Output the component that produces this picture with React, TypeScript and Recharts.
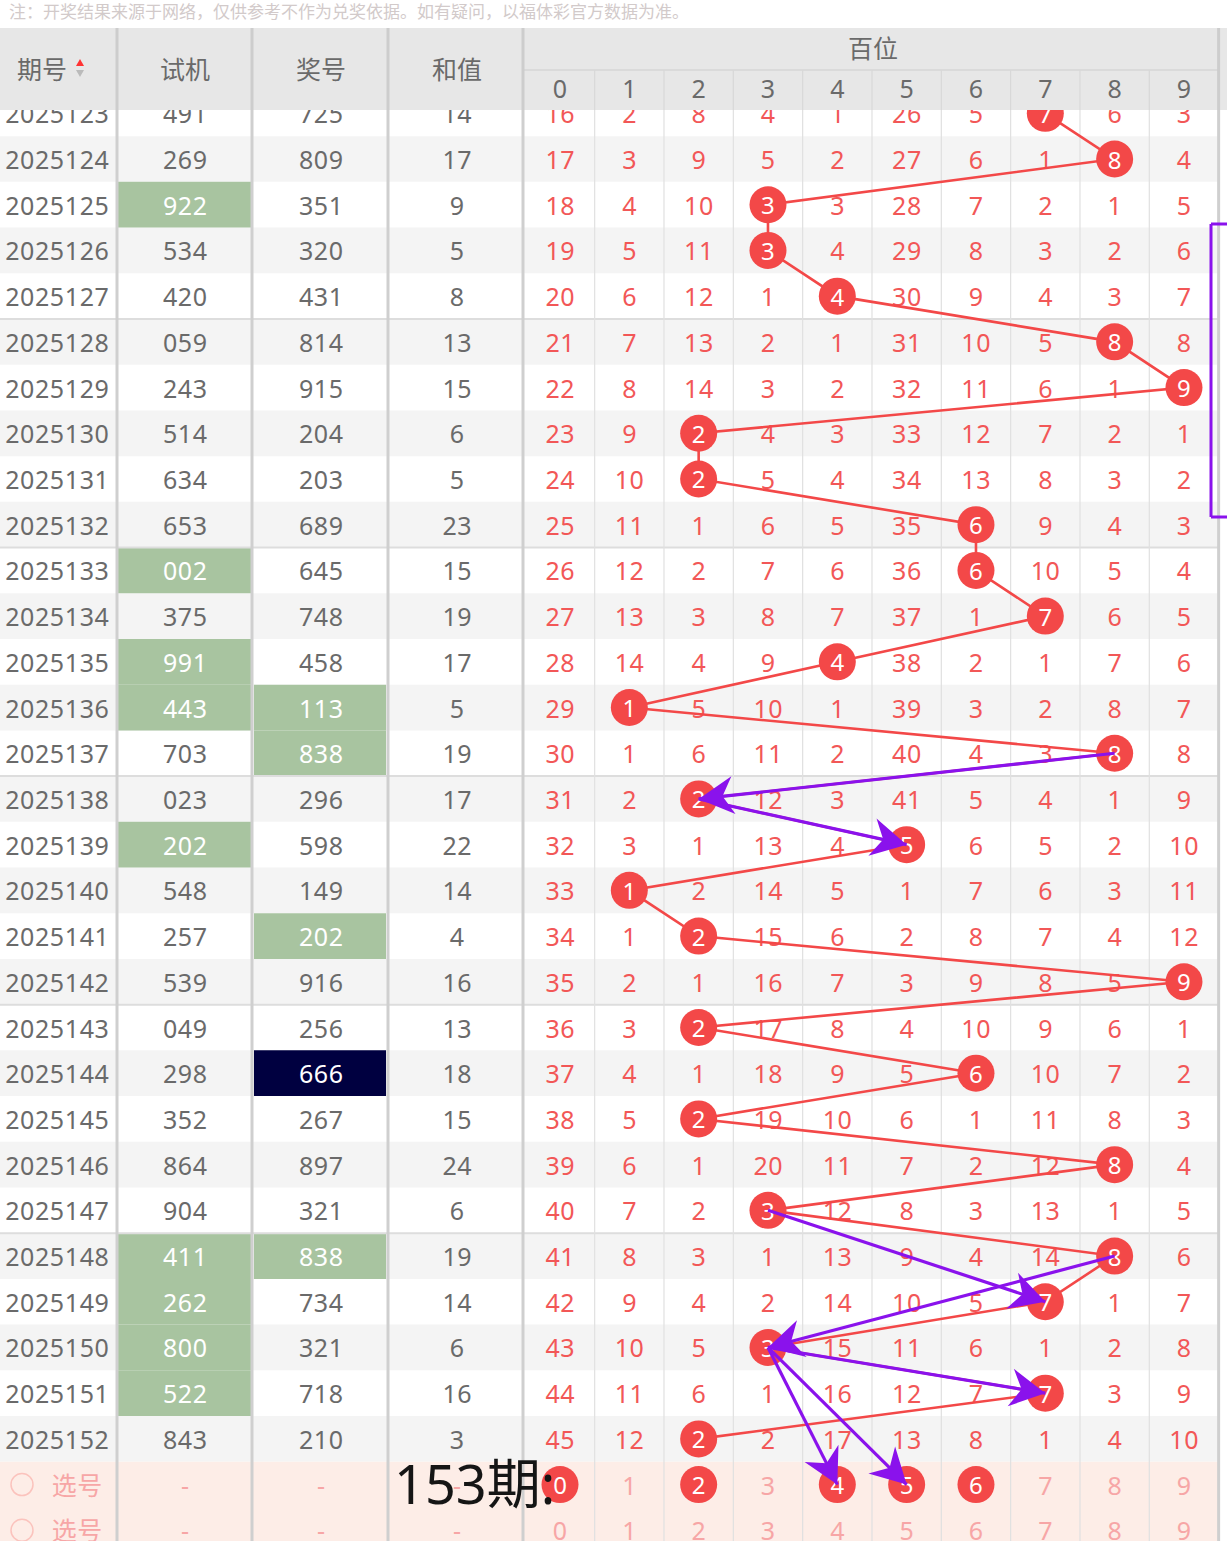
import React from 'react'
import {
  ComposedChart,
  XAxis,
  YAxis,
  Scatter,
  Line,
  ReferenceArea,
  ReferenceLine,
} from 'recharts'

const issues = [
  '2025123', '2025124', '2025125', '2025126', '2025127', '2025128', '2025129', '2025130', '2025131', '2025132',
  '2025133', '2025134', '2025135', '2025136', '2025137', '2025138', '2025139', '2025140', '2025141', '2025142',
  '2025143', '2025144', '2025145', '2025146', '2025147', '2025148', '2025149', '2025150', '2025151', '2025152',
]
const shiji = [
  '491', '269', '922', '534', '420', '059', '243', '514', '634', '653',
  '002', '375', '991', '443', '703', '023', '202', '548', '257', '539',
  '049', '298', '352', '864', '904', '411', '262', '800', '522', '843',
]
const jianghao = [
  '725', '809', '351', '320', '431', '814', '915', '204', '203', '689',
  '645', '748', '458', '113', '838', '296', '598', '149', '202', '916',
  '256', '666', '267', '897', '321', '838', '734', '321', '718', '210',
]
const hezhi = [14, 17, 9, 5, 8, 13, 15, 6, 5, 23, 15, 19, 17, 5, 19, 17, 22, 14, 4, 16, 13, 18, 15, 24, 6, 19, 14, 6, 16, 3]

// 百位 omission values, 0..9 (hit cells hold the digit itself)
const baiwei = [
  [16, 2, 8, 4, 1, 26, 5, 7, 6, 3],
  [17, 3, 9, 5, 2, 27, 6, 1, 8, 4],
  [18, 4, 10, 3, 3, 28, 7, 2, 1, 5],
  [19, 5, 11, 3, 4, 29, 8, 3, 2, 6],
  [20, 6, 12, 1, 4, 30, 9, 4, 3, 7],
  [21, 7, 13, 2, 1, 31, 10, 5, 8, 8],
  [22, 8, 14, 3, 2, 32, 11, 6, 1, 9],
  [23, 9, 2, 4, 3, 33, 12, 7, 2, 1],
  [24, 10, 2, 5, 4, 34, 13, 8, 3, 2],
  [25, 11, 1, 6, 5, 35, 6, 9, 4, 3],
  [26, 12, 2, 7, 6, 36, 6, 10, 5, 4],
  [27, 13, 3, 8, 7, 37, 1, 7, 6, 5],
  [28, 14, 4, 9, 4, 38, 2, 1, 7, 6],
  [29, 1, 5, 10, 1, 39, 3, 2, 8, 7],
  [30, 1, 6, 11, 2, 40, 4, 3, 8, 8],
  [31, 2, 2, 12, 3, 41, 5, 4, 1, 9],
  [32, 3, 1, 13, 4, 5, 6, 5, 2, 10],
  [33, 1, 2, 14, 5, 1, 7, 6, 3, 11],
  [34, 1, 2, 15, 6, 2, 8, 7, 4, 12],
  [35, 2, 1, 16, 7, 3, 9, 8, 5, 9],
  [36, 3, 2, 17, 8, 4, 10, 9, 6, 1],
  [37, 4, 1, 18, 9, 5, 6, 10, 7, 2],
  [38, 5, 2, 19, 10, 6, 1, 11, 8, 3],
  [39, 6, 1, 20, 11, 7, 2, 12, 8, 4],
  [40, 7, 2, 3, 12, 8, 3, 13, 1, 5],
  [41, 8, 3, 1, 13, 9, 4, 14, 8, 6],
  [42, 9, 4, 2, 14, 10, 5, 7, 1, 7],
  [43, 10, 5, 3, 15, 11, 6, 1, 2, 8],
  [44, 11, 6, 1, 16, 12, 7, 7, 3, 9],
  [45, 12, 2, 2, 17, 13, 8, 1, 4, 10],
]
const digits = [0, 1, 2, 3, 4, 5, 6, 7, 8, 9]
const nextPicks = [0, 2, 4, 5, 6] // 153期 choices
// purple arrows: [fromRow, fromDigit, toRow, toDigit]
const arrows = [
  [14, 8, 15, 2],
  [15, 2, 16, 5],
  [24, 3, 26, 7],
  [25, 8, 27, 3],
  [27, 3, 28, 7],
  [27, 3, 30, 4],
  [27, 3, 30, 5],
]
const leftHeaders = ['期号', '试机', '奖号', '和值']
const note = '注：开奖结果来源于网络，仅供参考不作为兑奖依据。如有疑问，以福体彩官方数据为准。'

// ---- layout ----
const W = 1227
const H = 1541
const COL_W = 69.33
const ROW_H = 45.71
const ux = (px: number) => (px - 560) / COL_W
const ry = (py: number) => (py - 113.3) / ROW_H
const X_DOMAIN: [number, number] = [ux(0), ux(W)]
const Y_DOMAIN: [number, number] = [ry(0), ry(H)]
const leftCenters = [57, 185, 321, 457].map(ux)
const thickX = [117, 252, 388, 523].map(ux).concat([9.5])
const PICK_ROW = 30
const FONT = "'Noto Sans', 'Noto Sans CJK SC', sans-serif"
const RED = '#f34848'
const MISS = '#f25757'
const PINK = '#f7a6a6'
const GRAY = '#6a6a6a'
const PURPLE = '#8a12ec'

const hits = jianghao.map(j => Number(j[0]))
const isPair = (s: string) => new Set(s.split('')).size === 2
const isTriple = (s: string) => new Set(s.split('')).size === 1

// text cells
const cells: any[] = []
issues.forEach((iss, i) => {
  cells.push({ x: leftCenters[0], y: i, label: iss, color: GRAY })
  const sj = shiji[i]
  const jh = jianghao[i]
  cells.push({ x: leftCenters[1], y: i, label: sj, color: isPair(sj) || isTriple(sj) ? '#fff' : GRAY })
  cells.push({ x: leftCenters[2], y: i, label: jh, color: isPair(jh) || isTriple(jh) ? '#fff' : GRAY })
  cells.push({ x: leftCenters[3], y: i, label: String(hezhi[i]), color: GRAY })
  digits.forEach(d => {
    if (d !== hits[i]) cells.push({ x: d, y: i, label: String(baiwei[i][d]), color: MISS })
  })
})
;[PICK_ROW, PICK_ROW + 1].forEach(r => {
  cells.push({ x: ux(22), y: r, kind: 'radio' })
  cells.push({ x: ux(77), y: r, label: '选号', color: PINK })
  leftCenters.slice(1).forEach(x => cells.push({ x, y: r, label: '-', color: PINK }))
  digits.forEach(d => {
    if (r === PICK_ROW && nextPicks.includes(d)) return
    cells.push({ x: d, y: r, label: String(d), color: PINK })
  })
})

const balls = hits
  .map((d, i) => ({ x: d, y: i, label: String(d) }))
  .concat(nextPicks.map(d => ({ x: d, y: PICK_ROW, label: String(d) })))
const path = hits.map((d, i) => ({ x: d, y: i }))

const headerCells: any[] = [
  ...leftHeaders.map((t, i) => ({ x: i === 0 ? ux(42) : leftCenters[i], y: ry(69), label: t, sort: i === 0 })),
  { x: ux(873), y: ry(48), label: '百位' },
  ...digits.map(d => ({ x: d, y: ry(88), label: String(d) })),
]

const renderCell = (p: any) => {
  const { cx, cy, payload } = p
  if (payload.kind === 'radio') {
    return <circle cx={cx} cy={cy} r={11} fill="none" stroke="#fbc3bd" strokeWidth={1.5} />
  }
  const anchor = payload.anchor ?? 'middle'
  const spacing = payload.spacing ?? 0.6
  return (
    <text x={anchor === 'middle' ? cx + spacing / 2 : cx} y={cy} textAnchor={anchor} dominantBaseline="central"
      fill={payload.color} fontSize={payload.size ?? 25} fontFamily={FONT} letterSpacing={spacing}>
      {payload.label}
    </text>
  )
}

const renderHeader = (p: any) => {
  const { cx, cy, payload } = p
  return (
    <g>
      <text x={cx} y={cy} textAnchor="middle" dominantBaseline="central" fill={GRAY} fontSize={25} fontFamily={FONT}>
        {payload.label}
      </text>
      {payload.sort && (
        <g>
          <path d={`M${cx + 34},${cy - 3} l4,-7 l4,7 z`} fill="#f33" />
          <path d={`M${cx + 34},${cy + 1} l4,7 l4,-7 z`} fill="#bbb" />
        </g>
      )}
    </g>
  )
}

const renderBall = (p: any) => {
  const { cx, cy, payload } = p
  return (
    <g>
      <circle cx={cx} cy={cy} r={18.5} fill={RED} />
      <text x={cx} y={cy} textAnchor="middle" dominantBaseline="central" fill="#fff" fontSize={24} fontFamily={FONT}>
        {payload.label}
      </text>
    </g>
  )
}

const renderArrowHead = (p: any) => {
  const { cx, cy, index, payload } = p
  if (index !== 1) return <g key={`a-${index}`} />
  const dx = (payload.x - payload.fx) * COL_W
  const dy = (payload.y - payload.fy) * ROW_H
  const len = Math.hypot(dx, dy)
  const vx = dx / len
  const vy = dy / len
  const nx = -vy
  const ny = vx
  const L = 35
  const Wd = 19
  const bx = cx - L * vx
  const by = cy - L * vy
  const mx = cx - (L - 11) * vx
  const my = cy - (L - 11) * vy
  return (
    <path key={`a-${index}`}
      d={`M${cx},${cy} L${bx + Wd * nx},${by + Wd * ny} L${mx},${my} L${bx - Wd * nx},${by - Wd * ny} Z`}
      fill={PURPLE} />
  )
}

export default function App() {
  return (
    <div style={{ position: 'absolute', left: 0, top: 0, width: W, height: H, background: '#fff' }}>
      <ComposedChart width={W} height={H} margin={{ top: 0, right: 0, bottom: 0, left: 0 }}>
        <XAxis type="number" dataKey="x" domain={X_DOMAIN} allowDataOverflow hide />
        <YAxis type="number" dataKey="y" domain={Y_DOMAIN} reversed allowDataOverflow hide />

        {/* row stripes */}
        {issues.map((_, i) => i % 2 === 1 && (
          <ReferenceArea key={`s${i}`} x1={X_DOMAIN[0]} x2={9.5} y1={i - 0.5} y2={i + 0.5}
            fill="#f4f4f4" fillOpacity={1} stroke="none" zIndex={10} />
        ))}
        <ReferenceArea x1={X_DOMAIN[0]} x2={9.5} y1={PICK_ROW - 0.5} y2={Y_DOMAIN[1]}
          fill="#fdede7" fillOpacity={1} stroke="none" zIndex={10} />

        {/* highlighted 组三 / 豹子 cells */}
        {issues.map((_, i) => [shiji[i], jianghao[i]].map((v, k) => (isPair(v) || isTriple(v)) && (
          <ReferenceArea key={`h${i}-${k}`} x1={ux(k === 0 ? 118 : 254)} x2={ux(k === 0 ? 251 : 386)}
            y1={i - 0.5} y2={i + 0.5} fill={isTriple(v) ? '#000040' : '#a8c4a0'} fillOpacity={1}
            stroke="none" zIndex={20} />
        )))}

        {/* grid */}
        {[4.5, 9.5, 14.5, 19.5, 24.5].map(y => (
          <ReferenceLine key={`hl${y}`} segment={[{ x: X_DOMAIN[0], y }, { x: 9.5, y }]}
            stroke="#dddddd" strokeWidth={2} zIndex={30} />
        ))}
        {digits.slice(1).map(d => (
          <ReferenceLine key={`vl${d}`} segment={[{ x: d - 0.5, y: ry(70) }, { x: d - 0.5, y: Y_DOMAIN[1] }]}
            stroke="#e0e0e0" strokeWidth={1.2} zIndex={30} />
        ))}
        {thickX.map(x => (
          <ReferenceLine key={`tl${x}`} segment={[{ x, y: ry(28) }, { x, y: Y_DOMAIN[1] }]}
            stroke="#cfcfcf" strokeWidth={3} zIndex={30} />
        ))}

        <Scatter data={cells} shape={renderCell} isAnimationActive={false} zIndex={40} />

        <Line data={path} dataKey="y" type="linear" stroke={RED} strokeWidth={2.6} dot={false}
          activeDot={false} isAnimationActive={false} zIndex={50} />

        <Scatter data={balls} shape={renderBall} isAnimationActive={false} zIndex={60} />

        {arrows.map(([fr, fd, tr, td], i) => (
          <Line key={`ar${i}`} data={[{ x: fd, y: fr }, { x: td, y: tr, fx: fd, fy: fr }]} dataKey="y"
            type="linear" stroke={PURPLE} strokeWidth={3.2} dot={renderArrowHead} activeDot={false}
            isAnimationActive={false} zIndex={70} />
        ))}

        {/* bracket on the right */}
        <ReferenceLine segment={[{ x: ux(1211), y: ry(224) }, { x: ux(1211), y: ry(517) }]}
          stroke={PURPLE} strokeWidth={3} zIndex={75} />
        <ReferenceLine segment={[{ x: ux(1211), y: ry(224) }, { x: X_DOMAIN[1], y: ry(224) }]}
          stroke={PURPLE} strokeWidth={3} zIndex={75} />
        <ReferenceLine segment={[{ x: ux(1211), y: ry(517) }, { x: X_DOMAIN[1], y: ry(517) }]}
          stroke={PURPLE} strokeWidth={3} zIndex={75} />

        {/* header */}
        <ReferenceArea x1={X_DOMAIN[0]} x2={X_DOMAIN[1]} y1={ry(28)} y2={ry(110)}
          fill="#e7e7e7" fillOpacity={1} stroke="none" zIndex={80} />
        <ReferenceLine segment={[{ x: thickX[3], y: ry(70) }, { x: 9.5, y: ry(70) }]}
          stroke="#d6d6d6" strokeWidth={1.5} zIndex={85} />
        {digits.slice(1).map(d => (
          <ReferenceLine key={`hv${d}`} segment={[{ x: d - 0.5, y: ry(70) }, { x: d - 0.5, y: ry(110) }]}
            stroke="#d8d8d8" strokeWidth={1.2} zIndex={85} />
        ))}
        {thickX.map(x => (
          <ReferenceLine key={`hx${x}`} segment={[{ x, y: ry(28) }, { x, y: ry(110) }]}
            stroke="#cdcdcd" strokeWidth={3} zIndex={85} />
        ))}
        <Scatter data={headerCells} shape={renderHeader} isAnimationActive={false} zIndex={90} />

        <Scatter
          data={[
            { x: ux(9), y: ry(11), label: note, color: '#d2caca', size: 17, anchor: 'start', spacing: 0 },
            { x: ux(394), y: PICK_ROW - 0.03, label: '153期:', color: '#151515', size: 54, anchor: 'start', spacing: 0 },
          ]}
          shape={renderCell} isAnimationActive={false} zIndex={95} />
      </ComposedChart>
    </div>
  )
}
